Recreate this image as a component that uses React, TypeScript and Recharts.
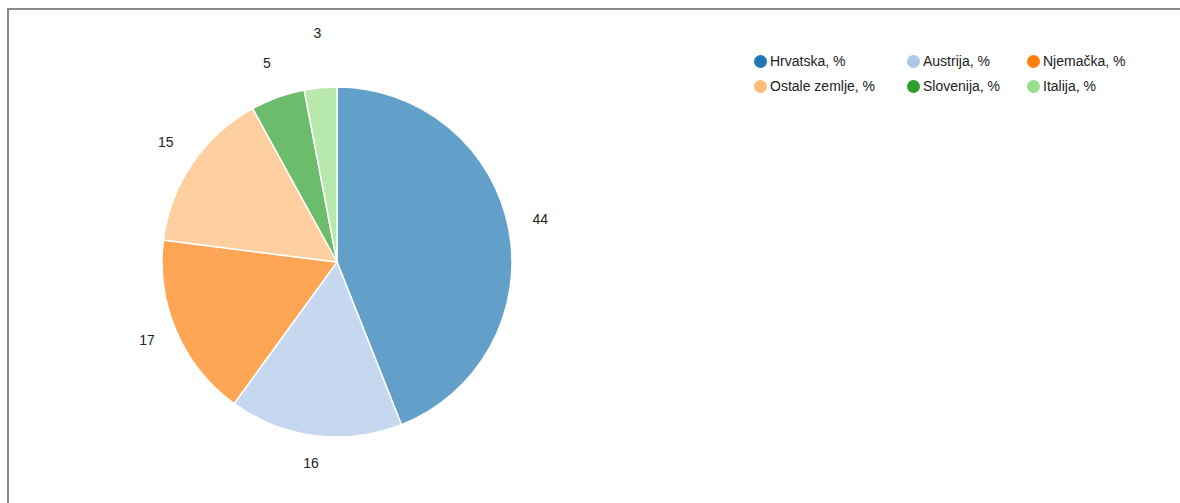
import { PieChart, Pie, Cell } from "recharts";

const countries = ["Hrvatska, %", "Austrija, %", "Njemačka, %", "Ostale zemlje, %", "Slovenija, %", "Italija, %"];
const shares = [44, 16, 17, 15, 5, 3];
const colors = ["#1f77b4", "#aec7e8", "#ff7f0e", "#ffbb78", "#2ca02c", "#98df8a"];

const data = countries.map((name, i) => ({ name, value: shares[i] }));

const RAD = Math.PI / 180;
const FONT = "'Liberation Sans', Arial, sans-serif";

// small nudge so the tiny last slice's label doesn't sit on the one before it
const labelNudge: Record<number, number> = { 5: -19 };

const renderLabel = (props: any) => {
  const { cx, cy, midAngle, outerRadius, value, index } = props;
  const r = outerRadius + 32;
  const x = cx + r * Math.cos(-midAngle * RAD);
  const y = cy + r * Math.sin(-midAngle * RAD) - 4 + (labelNudge[index] || 0);
  return (
    <text x={x} y={y} textAnchor="middle" dominantBaseline="central" fill="#222" fontSize={14} fontFamily={FONT}>
      {value}
    </text>
  );
};

const colWidths = [153, 120, 130];

const App = () => {
  return (
    // fixed so the frame can run past the window edges without scrollbars
    <div
      style={{
        position: "fixed",
        left: 7,
        top: 8,
        width: 1200,
        height: 520,
        borderTop: "2px solid #8a8a8a",
        borderLeft: "2px solid #8a8a8a",
        background: "#fff",
      }}
    >
      <PieChart width={1170} height={490} margin={{ top: 0, right: 0, bottom: 0, left: 0 }}>
        <Pie
          data={data}
          dataKey="value"
          nameKey="name"
          cx={328}
          cy={252}
          outerRadius={175}
          startAngle={90}
          endAngle={-270}
          stroke="#fff"
          strokeWidth={1.5}
          label={renderLabel}
          labelLine={false}
          isAnimationActive={false}
        >
          {data.map((d, i) => (
            <Cell key={d.name} fill={colors[i]} fillOpacity={0.7} />
          ))}
        </Pie>
      </PieChart>

      <div
        style={{
          position: "absolute",
          left: 745,
          top: 43,
          display: "grid",
          gridTemplateColumns: colWidths.map((w) => w + "px").join(" "),
          rowGap: 9,
          fontFamily: FONT,
          fontSize: 14,
          color: "#222",
        }}
      >
        {data.map((d, i) => (
          <div key={d.name} style={{ display: "flex", alignItems: "center", height: 16 }}>
            <span
              style={{
                display: "inline-block",
                width: 13,
                height: 13,
                borderRadius: "50%",
                background: colors[i],
                marginRight: 3,
              }}
            />
            <span>{d.name}</span>
          </div>
        ))}
      </div>
    </div>
  );
};

export default App;
